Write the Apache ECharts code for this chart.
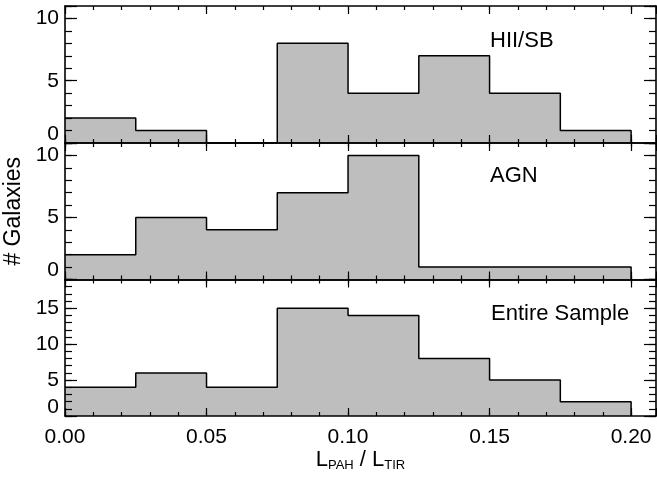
<!DOCTYPE html>
<html><head><meta charset="utf-8">
<script src="https://cdn.jsdelivr.net/npm/echarts@6/dist/echarts.min.js"></script>
<style>html,body{margin:0;padding:0;background:#fff}#c{width:657px;height:478px}</style>
</head><body><div id="c"></div>
<script>
// ---- data ----
const binEdges = [0, 0.025, 0.05, 0.075, 0.1, 0.125, 0.15, 0.175, 0.2];
const hiiSbCounts = [2, 1, 0, 8, 4, 7, 4, 1];
const agnCounts = [2, 5, 4, 7, 10, 1, 1, 1];
const entireCounts = [4, 6, 4, 15, 14, 8, 5, 2];
const panelLabels = ['HII/SB', 'AGN', 'Entire Sample'];
const xTickLabels = ['0.00', '0.05', '0.10', '0.15', '0.20'];
const yMaxes = [11, 11, 19];

// ---- layout / style ----
const FONT = "'Liberation Sans', Arial, Helvetica, sans-serif";
const XMAX = 0.2088;
const tops = [6, 143, 279.5], hts = [137, 136.5, 136.5];
const labelPos = [[490, 41], [490, 176], [491, 314]];
const panelCounts = [hiiSbCounts, agnCounts, entireCounts];

const grids = [], xAxes = [], yAxes = [], series = [], graphics = [];

function xLabel(v) {
  const i = Math.round(v / 0.05);
  if (Math.abs(v - i * 0.05) < 1e-7 && i < xTickLabels.length) return xTickLabels[i];
  return '';
}
function yLabel(v) {
  if (v === 0) return '0\n';
  if (Math.abs(v % 5) < 1e-9) return String(v);
  return '';
}

function xAx(g, pos, interval, len, major, labels) {
  return {
    type: 'value', gridIndex: g, position: pos, min: 0, max: XMAX, interval: interval, z: 10,
    axisLine: { show: major, onZero: false, lineStyle: { color: '#000', width: 1.6 } },
    axisTick: { show: true, inside: true, length: len, lineStyle: { color: '#000', width: 1.2 } },
    axisLabel: { show: labels, formatter: xLabel, color: '#000', fontFamily: FONT, fontSize: 21, margin: 11 },
    splitLine: { show: false }
  };
}
function yAx(g, pos, interval, len, major, labels) {
  return {
    type: 'value', gridIndex: g, position: pos, min: 0, max: yMaxes[g], interval: interval, z: 10,
    axisLine: { show: major, onZero: false, lineStyle: { color: '#000', width: 1.6 } },
    axisTick: { show: true, inside: true, length: len, lineStyle: { color: '#000', width: 1.2 } },
    axisLabel: { show: labels, formatter: yLabel, color: '#000', fontFamily: FONT, fontSize: 21, lineHeight: 18, margin: 6 },
    splitLine: { show: false }
  };
}

for (let g = 0; g < 3; g++) {
  grids.push({ left: 65, width: 591, top: tops[g], height: hts[g], containLabel: false, outerBoundsMode: 'none' });
  const xi = xAxes.length;
  const bottomMajor = xAx(g, 'bottom', 0.05, 8, true, g === 2);
  if (g === 2) {
    bottomMajor.name = '{b|L}{s|PAH}{b| / L}{s|TIR}';
    bottomMajor.nameLocation = 'middle';
    bottomMajor.nameGap = 31;
    bottomMajor.nameTextStyle = {
      rich: {
        b: { fontFamily: FONT, fontSize: 22, lineHeight: 24, color: '#000' },
        s: { fontFamily: FONT, fontSize: 13, lineHeight: 16, color: '#000', verticalAlign: 'bottom' }
      }
    };
  }
  xAxes.push(bottomMajor);
  xAxes.push(xAx(g, 'bottom', 0.01, 4, false, false));
  xAxes.push(xAx(g, 'top', 0.05, 8, true, false));
  xAxes.push(xAx(g, 'top', 0.01, 4, false, false));

  const yi = yAxes.length;
  const leftMajor = yAx(g, 'left', 5, 12, true, true);
  if (g === 1) {
    leftMajor.name = '# Galaxies';
    leftMajor.nameLocation = 'middle';
    leftMajor.nameGap = 36;
    leftMajor.nameTextStyle = { fontFamily: FONT, fontSize: 23, color: '#000' };
  }
  yAxes.push(leftMajor);
  yAxes.push(yAx(g, 'left', 1, 7, false, false));
  yAxes.push(yAx(g, 'right', 5, 12, true, false));
  yAxes.push(yAx(g, 'right', 1, 7, false, false));

  const counts = panelCounts[g];
  const data = [];
  for (let i = 0; i < counts.length; i++) data.push([binEdges[i], counts[i]]);
  data.push([binEdges[binEdges.length - 1], counts[counts.length - 1]]);
  data.push([binEdges[binEdges.length - 1], 0]);
  series.push({
    type: 'line', xAxisIndex: xi, yAxisIndex: yi, data: data, step: 'end',
    symbol: 'none', z: 2, silent: true, animation: false,
    lineStyle: { color: '#000', width: 1.5 },
    areaStyle: { color: '#bebebe', opacity: 1, origin: 'start' }
  });

  graphics.push({
    type: 'text', x: labelPos[g][0], y: labelPos[g][1], z: 20,
    style: { text: panelLabels[g], fontFamily: FONT, fontSize: 22, fill: '#000', verticalAlign: 'middle', align: 'left' }
  });
}

const chart = echarts.init(document.getElementById('c'), null, { renderer: 'canvas' });
chart.setOption({
  animation: false,
  backgroundColor: '#fff',
  grid: grids,
  xAxis: xAxes,
  yAxis: yAxes,
  series: series,
  graphic: graphics
});
</script>
</body></html>
